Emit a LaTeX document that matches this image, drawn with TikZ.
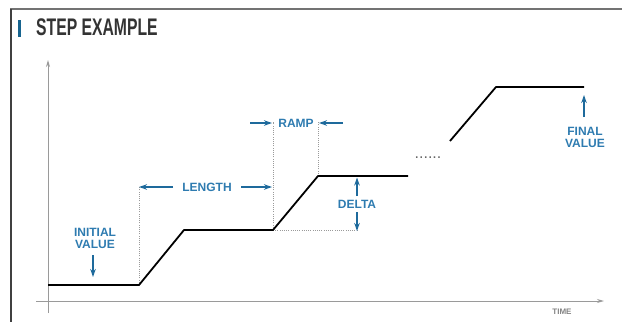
\documentclass[tikz,border=0pt]{standalone}
\usepackage{fontspec}
\setmainfont{Liberation Sans}
\usetikzlibrary{arrows.meta}
\definecolor{labblue}{HTML}{2E7BB0}
\definecolor{arrblue}{HTML}{1E6A9C}
\definecolor{barblue}{HTML}{17648F}
\definecolor{axgray}{HTML}{9A9A9A}
\definecolor{titlegray}{HTML}{333333}
\tikzset{
  lab/.style={font=\fontsize{12}{12}\selectfont\bfseries, text=labblue, inner sep=0pt, align=center},
  bluearr/.style={draw=arrblue, line width=1.6pt, -{Stealth[length=8pt,width=5.5pt]}},
  curve/.style={draw=black, line width=1.8pt, line join=round},
  guide/.style={draw=axgray, line width=0.7pt, dash pattern=on 1pt off 1.2pt},
  axis/.style={draw=axgray, line width=1pt, -{Stealth[length=7pt,width=4pt]}},
}
\begin{document}
\begin{tikzpicture}[x=1pt,y=-1pt]
\useasboundingbox (0,0) rectangle (622,322);
% frame
\draw[draw=gray!90!black, line width=1.8pt] (10,9) -- (622,9);
\draw[draw=black!75, line width=1.2pt] (11,8.5) -- (11,322);
% title
\fill[barblue] (17.5,19.5) rectangle (21,36.5);
\node[anchor=west, inner sep=0pt, text=titlegray] (title) at (36,27.5)
  {\scalebox{0.655}[1]{\fontsize{24}{24}\selectfont\bfseries STEP EXAMPLE}};
% axes
\coordinate (ybot) at (48,313);
\coordinate (ytop) at (48,60);
\coordinate (xl) at (36,301);
\coordinate (xr) at (604,301);
\draw[axis] (ybot) -- (ytop);
\draw[axis] (xl) -- (xr);
\node[font=\fontsize{8}{8}\selectfont\bfseries, text=axgray!85!black, inner sep=0pt] (time) at (562,312) {TIME};
% curve points
\coordinate (p0) at (48,285);
\coordinate (p1) at (139,285);
\coordinate (p2) at (184,230);
\coordinate (p3) at (273,230);
\coordinate (p4) at (318,176);
\coordinate (p5) at (408,176);
\coordinate (q0) at (450,141);
\coordinate (q1) at (496,87);
\coordinate (q2) at (584,87);
% guides
\coordinate (g1) at (139,187);
\coordinate (g2) at (273,122);
\coordinate (g3) at (318,122);
\coordinate (g4) at (357,230);
\draw[guide] (p1) -- (g1);
\draw[guide] (p3) -- (g2);
\draw[guide] (p4) -- (g3);
\draw[guide] (p3) -- (g4);
% curve
\draw[curve] (p0) -- (p1) -- (p2) -- (p3) -- (p4) -- (p5);
\draw[curve] (q0) -- (q1) -- (q2);
\node[inner sep=0pt, font=\fontsize{16}{16}\selectfont, text=black!60] (dots) at (428,158) {......};
% LENGTH
\node[lab] (length) at (207,187) {LENGTH};
\coordinate (la) at (173,187);
\coordinate (lb) at (241,187);
\coordinate (lc) at (272,187);
\draw[bluearr] (la) -- (g1);
\draw[bluearr] (lb) -- (lc);
% RAMP
\node[lab] (ramp) at (296,123) {RAMP};
\coordinate (ra) at (250,123);
\coordinate (rb) at (272,123);
\coordinate (rc) at (343,123);
\coordinate (rd) at (319,123);
\draw[bluearr] (ra) -- (rb);
\draw[bluearr] (rc) -- (rd);
% DELTA
\node[lab] (delta) at (357,204) {DELTA};
\coordinate (da) at (357,196);
\coordinate (db) at (357,177.5);
\coordinate (dc) at (357,212);
\coordinate (dd) at (357,231);
\draw[bluearr] (da) -- (db);
\draw[bluearr] (dc) -- (dd);
% INITIAL VALUE
\node[lab] (init) at (95,238) {INITIAL\\VALUE};
\coordinate (ia) at (93,255);
\coordinate (ib) at (93,277);
\draw[bluearr] (ia) -- (ib);
% FINAL VALUE
\node[lab] (final) at (585,137) {FINAL\\VALUE};
\coordinate (fa) at (584,117);
\coordinate (fb) at (584,95);
\draw[bluearr] (fa) -- (fb);
\end{tikzpicture}
\end{document}
